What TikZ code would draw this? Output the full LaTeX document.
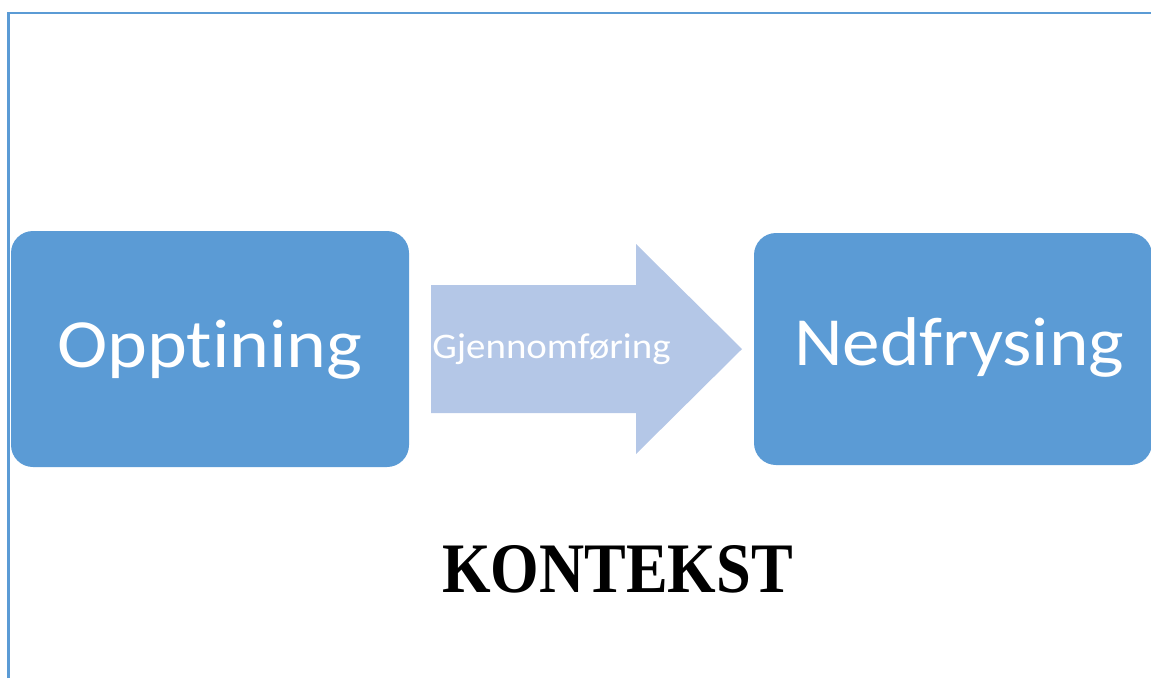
\documentclass[tikz,border=0pt]{standalone}
\usepackage{fontspec}
\setmainfont{Liberation Serif}
\newfontfamily\calib[Ligatures=NoCommon]{Carlito}
\usetikzlibrary{calc}
\definecolor{boxblue}{HTML}{5B9BD5}
\definecolor{arrowblue}{HTML}{B4C7E7}
\tikzset{
  frameline/.style={draw=boxblue, line width=2.2pt},
  stagebox/.style={fill=boxblue, rounded corners=22pt},
  stagetext/.style={text=white, anchor=base, inner sep=0pt, font=\calib\fontsize{69}{80}\selectfont},
  flowtext/.style={text=white, anchor=base, inner sep=0pt, font=\calib\fontsize{36}{42}\selectfont},
  titletext/.style={text=black, anchor=base, inner sep=0pt, font=\bfseries\fontsize{71}{80}\selectfont}
}
\begin{document}
\begin{tikzpicture}[x=1pt, y=-1pt]
  \useasboundingbox (0,0) rectangle (1151,678);
  % page frame (top and left edges)
  \coordinate (fbl) at (8.5,678);
  \coordinate (ftl) at (8.5,13);
  \coordinate (ftr) at (1151,13);
  \draw[frameline] (fbl) -- (ftl) -- (ftr);
  % stage boxes
  \path[stagebox] (11,231) rectangle (409,467);
  \path[stagebox] (754,233) rectangle (1152,465);
  % process arrow
  \fill[arrowblue] (431,285) -- (636,285) -- (636,244) -- (742,349)
     -- (636,454) -- (636,413) -- (431,413) -- cycle;
  % labels
  \node[stagetext] (opp) at (210,367) {\scalebox{1.1}[1]{Opptining}};
  \node[stagetext] (ned) at (959,365) {\scalebox{1.09}[1]{Nedfrysing}};
  \node[flowtext] (gjen) at (551.5,358) {\scalebox{1.08}[1]{Gjennomføring}};
  \node[titletext] (ktx) at (617.5,592) {\scalebox{0.88}[1]{KONTEKST}};
\end{tikzpicture}
\end{document}
